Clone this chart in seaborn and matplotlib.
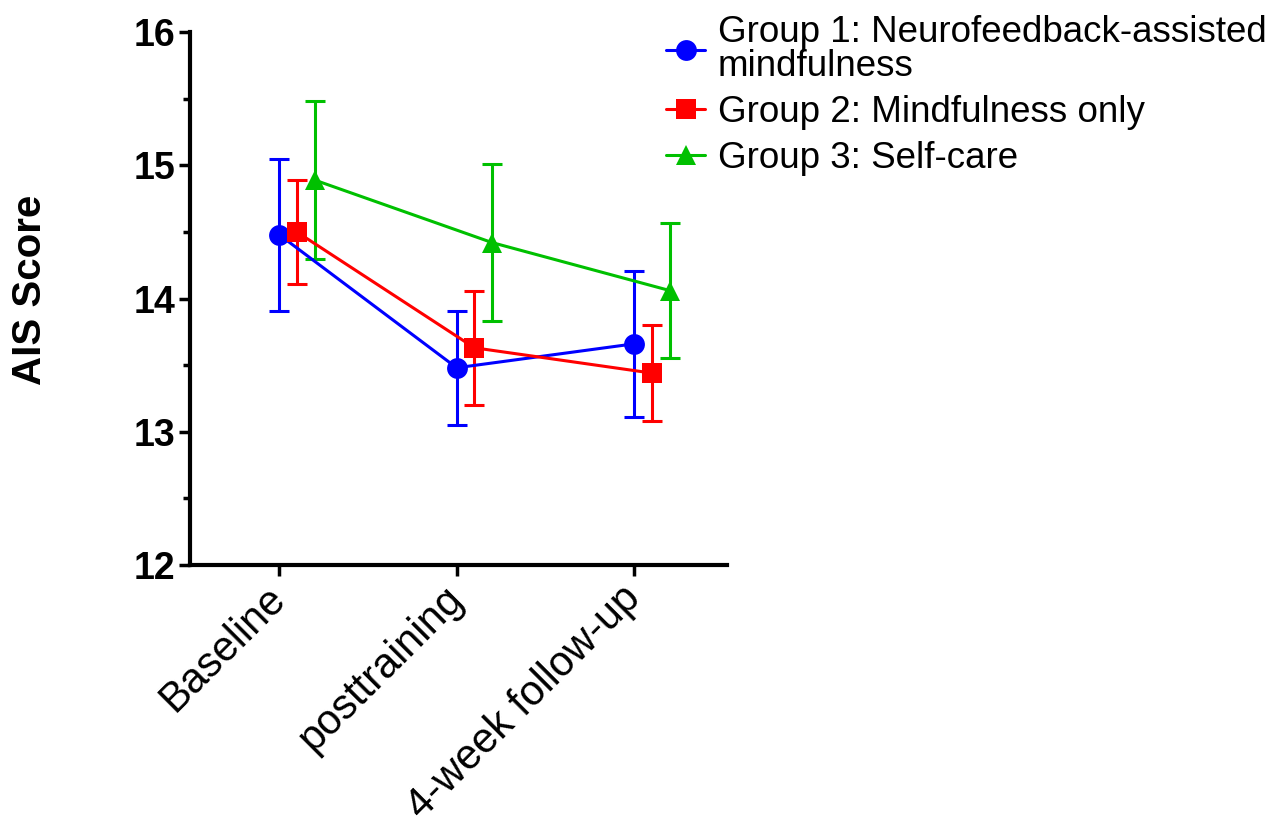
import pandas as pd
import seaborn as sns
import matplotlib.pyplot as plt
from matplotlib.lines import Line2D
from matplotlib.ticker import MultipleLocator

# values (mean +/- error)
timepoints = ["Baseline", "posttraining", "4-week follow-up"]
groups = ["Group 1: Neurofeedback-assisted\nmindfulness",
          "Group 2: Mindfulness only",
          "Group 3: Self-care"]
g1_mean = [14.48, 13.48, 13.66]
g1_err = [0.57, 0.43, 0.55]
g2_mean = [14.50, 13.63, 13.44]
g2_err = [0.39, 0.43, 0.36]
g3_mean = [14.89, 14.42, 14.06]
g3_err = [0.59, 0.59, 0.51]

colors = ["#0000FF", "#FF0000", "#00C000"]
markers = ["o", "s", "^"]
msizes = [15, 14, 15]
offsets = [0.0, 0.1, 0.2]

rows = []
for g, means, errs, off in zip(groups, [g1_mean, g2_mean, g3_mean],
                                [g1_err, g2_err, g3_err], offsets):
    for i, (m, e) in enumerate(zip(means, errs)):
        rows.append({"group": g, "time": timepoints[i], "x": i + off, "score": m, "err": e})
df = pd.DataFrame(rows)

sns.set_theme(style="ticks")
plt.rcParams['font.family'] = ['Liberation Sans', 'DejaVu Sans']
plt.rcParams.update({"text.color": "black", "axes.labelcolor": "black",
                     "xtick.color": "black", "ytick.color": "black"})

fig = plt.figure(figsize=(12.86, 8.27), dpi=100)
ax = fig.add_axes([0.148, 0.317, 0.417, 0.644])

for g, c, mk, ms in zip(groups, colors, markers, msizes):
    sub = df[df["group"] == g]
    ax.errorbar(sub["x"], sub["score"], yerr=sub["err"], fmt="none", ecolor=c,
                elinewidth=2.2, capsize=7, capthick=2.2, zorder=2)
    sns.lineplot(data=sub, x="x", y="score", color=c, marker=mk, markersize=ms,
                 markeredgewidth=0, linewidth=2.2, ax=ax, zorder=3)

ax.set_xlim(-0.5, 2.52)
ax.set_ylim(12, 16)
ax.yaxis.set_major_locator(MultipleLocator(1))
ax.yaxis.set_minor_locator(MultipleLocator(0.5))
ax.set_xticks(range(len(timepoints)))
ax.set_xticklabels(timepoints, rotation=45, ha="right", va="center",
                   rotation_mode="anchor", fontsize=30)
for lab in ax.get_yticklabels():
    lab.set_fontweight("bold")
ax.tick_params(axis="y", which="major", labelsize=27, width=2.5, length=8, pad=3)
ax.tick_params(axis="y", which="minor", width=2.5, length=5)
ax.tick_params(axis="x", width=2.5, length=8, pad=12)
ax.set_xlabel("")
ax.set_ylabel("AIS Score", fontsize=29, fontweight="bold")
ax.yaxis.set_label_coords(-0.263, 0.516)
sns.despine(ax=ax)
for side in ["left", "bottom"]:
    ax.spines[side].set_linewidth(3)
    ax.spines[side].set_color("black")

handles = [Line2D([0], [0], color=c, marker=mk, markersize=ms, markeredgewidth=0, linewidth=2.2)
           for c, mk, ms in zip(colors, markers, msizes)]
leg = fig.legend(handles, groups, loc="upper left", bbox_to_anchor=(0.501, 1.008), frameon=False,
                 fontsize=26.5, handlelength=1.05, handletextpad=0.35, labelspacing=0.3,
                 borderaxespad=0.2)
for t in leg.get_texts():
    t.set_linespacing(0.95)

fig.savefig("out.png", dpi=100)
